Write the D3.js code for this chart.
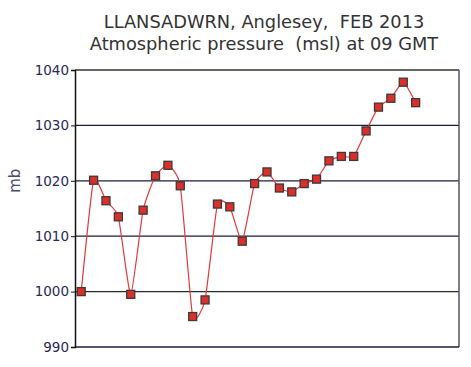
<!DOCTYPE html>
<html>
<head>
<meta charset="utf-8">
<script src="https://cdn.jsdelivr.net/npm/d3@7"></script>
<style>
  body { margin: 0; background: #fff; }
</style>
</head>
<body>
<div class="canvas"></div>
<script>
// days of Feb 2013 and 09 GMT pressure readings (mb)
const days = d3.range(1, 29);
const pressure = [
  1000.0, 1020.1, 1016.4, 1013.5, 999.5, 1014.7, 1020.9, 1022.8, 1019.1, 995.5,
  998.5, 1015.8, 1015.3, 1009.1, 1019.5, 1021.6, 1018.7, 1018.0, 1019.5, 1020.3,
  1023.6, 1024.4, 1024.4, 1029.0, 1033.3, 1034.9, 1037.8, 1034.1
];
const yTicks = [990, 1000, 1010, 1020, 1030, 1040];
const titleLines = ['LLANSADWRN, Anglesey,  FEB 2013', 'Atmospheric pressure  (msl) at 09 GMT'];

const width = 471, height = 367;
const margin = { top: 70, right: 12, bottom: 20, left: 75 };
const graphWidth = width - margin.left - margin.right;
const graphHeight = height - margin.top - margin.bottom;

const svg = d3.select('.canvas').append('svg')
  .attr('width', width)
  .attr('height', height);

const graph = svg.append('g')
  .attr('transform', `translate(${margin.left}, ${margin.top})`);

// whole month on the x axis, one slot per day
const x = d3.scaleLinear()
  .domain([0.5, 31.5])
  .range([0, graphWidth]);

const y = d3.scaleLinear()
  .domain([990, 1040])
  .range([graphHeight, 0]);

// title (keep the double spaces)
svg.selectAll('text.title').data(titleLines).enter().append('text')
  .attr('class', 'title')
  .attr('x', 264)
  .attr('y', (d, i) => 28 + i * 22)
  .attr('text-anchor', 'middle')
  .attr('font-family', 'DejaVu Sans, Verdana, sans-serif')
  .attr('font-size', 17.8)
  .attr('fill', '#333')
  .style('white-space', 'pre')
  .text(d => d);

// gridlines
graph.selectAll('line.grid').data(yTicks.slice(1, -1)).enter().append('line')
  .attr('class', 'grid')
  .attr('x1', 0)
  .attr('x2', graphWidth)
  .attr('y1', d => y(d))
  .attr('y2', d => y(d))
  .attr('stroke', d => d === 1000 ? '#203020' : '#1c1c3c')
  .attr('stroke-width', 1.3);

// frame
graph.append('line')
  .attr('x1', 0).attr('x2', graphWidth)
  .attr('y1', 0).attr('y2', 0)
  .attr('stroke', '#2a3a2a').attr('stroke-width', 1.3);
graph.append('line')
  .attr('x1', graphWidth).attr('x2', graphWidth)
  .attr('y1', 0).attr('y2', graphHeight)
  .attr('stroke', '#555566').attr('stroke-width', 1.5);
graph.append('line')
  .attr('x1', 0).attr('x2', graphWidth)
  .attr('y1', graphHeight).attr('y2', graphHeight)
  .attr('stroke', '#1c1c3c').attr('stroke-width', 1.5);

// y axis
const yAxis = d3.axisLeft(y)
  .tickValues(yTicks)
  .tickSize(4)
  .tickPadding(2)
  .tickFormat(d3.format('d'));

const yAxisGroup = graph.append('g').call(yAxis);
yAxisGroup.select('.domain')
  .attr('stroke', '#111')
  .attr('stroke-width', 1.5);
yAxisGroup.selectAll('.tick line').attr('stroke', '#111');
yAxisGroup.selectAll('text')
  .attr('font-family', 'DejaVu Sans, Verdana, sans-serif')
  .attr('font-size', 13.5)
  .attr('fill', '#2a2a5a');

svg.append('text')
  .attr('transform', `translate(20, ${margin.top + y(1020)}) rotate(-90)`)
  .attr('text-anchor', 'middle')
  .attr('font-family', 'DejaVu Sans, Verdana, sans-serif')
  .attr('font-size', 15)
  .attr('fill', '#4a4a6a')
  .text('mb');

// line
const data = days.map((d, i) => ({ day: d, value: pressure[i] }));

const line = d3.line()
  .x(d => x(d.day))
  .y(d => y(d.value))
  .curve(d3.curveCardinal.tension(0.5));

graph.append('path')
  .datum(data)
  .attr('d', line)
  .attr('fill', 'none')
  .attr('stroke', '#e03a3a')
  .attr('stroke-width', 1.2);

// markers
const s = 8;
graph.selectAll('rect.pt').data(data).enter().append('rect')
  .attr('class', 'pt')
  .attr('x', d => x(d.day) - s / 2)
  .attr('y', d => y(d.value) - s / 2)
  .attr('width', s)
  .attr('height', s)
  .attr('fill', '#dd2e2a')
  .attr('stroke', '#3a3a3a')
  .attr('stroke-width', 1.3);
</script>
</body>
</html>
